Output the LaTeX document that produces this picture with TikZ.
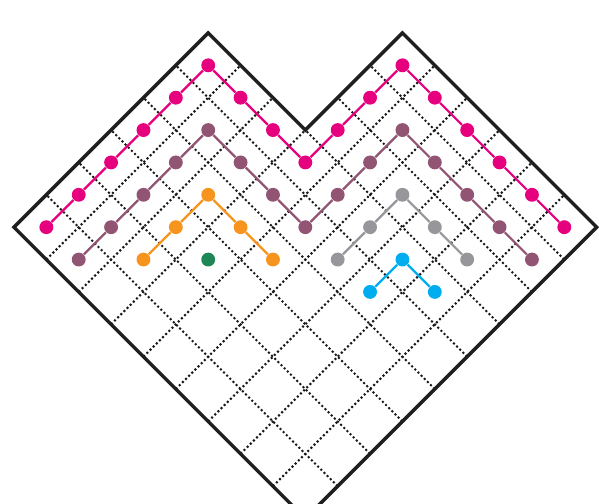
\documentclass[tikz,border=0pt]{standalone}
\usepackage{xcolor}
\usepackage{tikz}
\definecolor{rimpink}{RGB}{230,0,126}
\definecolor{rimmauve}{RGB}{145,85,115}
\definecolor{rimorange}{RGB}{247,148,30}
\definecolor{rimgreen}{RGB}{30,135,85}
\definecolor{rimgray}{RGB}{150,150,155}
\definecolor{rimblue}{RGB}{0,174,239}

\begin{document}
\begin{tikzpicture}[x={(-0.5cm,0.5cm)}, y={(0.5cm,0.5cm)},
      dot/.style={circle, fill=#1, inner sep=0pt, minimum size=6.1pt},
      hook/.style={draw=#1, line width=1pt},
      gridline/.style={draw=black!90, line width=0.9pt, dash pattern=on 0.9pt off 1.05pt}
  ]
    \useasboundingbox (-4.716cm,0.239cm) rectangle (4.536cm,8.009cm);
    \clip (-4.716cm,0.239cm) rectangle (4.536cm,8.009cm);

    % dotted cells
    \foreach \k in {1,...,8} {
      \pgfmathsetmacro\len{\k<7 ? 9 : 6}
      \draw[gridline] (\k,0) -- (\k,\len);
      \draw[gridline] (0,\k) -- (\len,\k);
    }

    % heart outline
    \draw[line width=1.5pt, draw=black!88] (0,0) -- (9,0) -- (9,6) -- (6,6)
      -- (6,9) -- (0,9) -- cycle;

    % outer rim
    \foreach \a/\b [count=\n] in {8/0,8/1,8/2,8/3,8/4,8/5,7/5,6/5,5/5,5/6,5/7,5/8,4/8,3/8,2/8,1/8,0/8}
      \node[dot=rimpink] (pink\n) at (\a+0.5,\b+0.5) {};
    \foreach \n [evaluate=\n as \m using int(\n+1)] in {1,...,16}
      \draw[hook=rimpink] (pink\n) -- (pink\m);

    % second rim
    \foreach \a/\b [count=\n] in {7/0,7/1,7/2,7/3,7/4,6/4,5/4,4/4,4/5,4/6,4/7,3/7,2/7,1/7,0/7}
      \node[dot=rimmauve] (mauve\n) at (\a+0.5,\b+0.5) {};
    \foreach \n [evaluate=\n as \m using int(\n+1)] in {1,...,14}
      \draw[hook=rimmauve] (mauve\n) -- (mauve\m);

    % left inner hooks
    \foreach \a/\b [count=\n] in {6/1,6/2,6/3,5/3,4/3}
      \node[dot=rimorange] (orange\n) at (\a+0.5,\b+0.5) {};
    \foreach \n [evaluate=\n as \m using int(\n+1)] in {1,...,4}
      \draw[hook=rimorange] (orange\n) -- (orange\m);
    \node[dot=rimgreen] (green1) at (5.5,2.5) {};

    % right inner hooks
    \foreach \a/\b [count=\n] in {3/4,3/5,3/6,2/6,1/6}
      \node[dot=rimgray] (gray\n) at (\a+0.5,\b+0.5) {};
    \foreach \n [evaluate=\n as \m using int(\n+1)] in {1,...,4}
      \draw[hook=rimgray] (gray\n) -- (gray\m);
    \foreach \a/\b [count=\n] in {2/4,2/5,1/5}
      \node[dot=rimblue] (blue\n) at (\a+0.5,\b+0.5) {};
    \draw[hook=rimblue] (blue1) -- (blue2);
    \draw[hook=rimblue] (blue2) -- (blue3);
  \end{tikzpicture}
\end{document}
